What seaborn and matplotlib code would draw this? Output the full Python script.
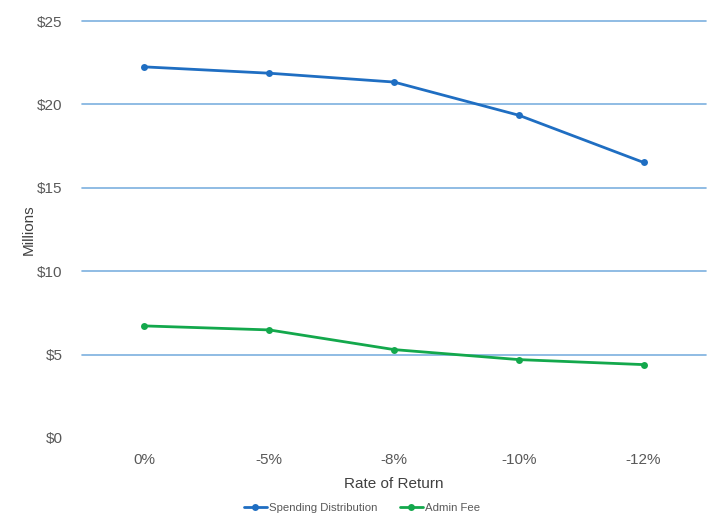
import matplotlib
matplotlib.use("Agg")
import matplotlib.pyplot as plt
import seaborn as sns
import pandas as pd
from matplotlib.ticker import FuncFormatter
from matplotlib.lines import Line2D

# Scenario categories and projected amounts (millions of dollars)
rates = ["0%", "-5%", "-8%", "-10%", "-12%"]
spending_distribution = [22.25, 21.87, 21.34, 19.35, 16.52]
admin_fee = [6.72, 6.48, 5.30, 4.70, 4.40]

series_names = ["Spending Distribution", "Admin Fee"]
palette = {"Spending Distribution": "#1F6EC2", "Admin Fee": "#13A84C"}

df = pd.DataFrame({
    "Rate of Return": rates * 2,
    "pos": list(range(len(rates))) * 2,
    "Value": spending_distribution + admin_fee,
    "Series": [series_names[0]] * len(rates) + [series_names[1]] * len(rates),
})

sns.set_theme(style="white")
plt.rcParams["font.family"] = ["Liberation Sans", "DejaVu Sans"]

fig = plt.figure(figsize=(7.12, 5.18), dpi=100)
ax = fig.add_axes([82 / 712, 1 - 438 / 518, (706 - 82) / 712, (438 - 21) / 518])

sns.lineplot(data=df, x="pos", y="Value", hue="Series", hue_order=series_names,
             palette=palette, marker="o", markersize=5, markeredgewidth=0,
             linewidth=2.0, ax=ax, legend=False)

ax.set_xlim(-0.5, len(rates) - 0.5)
ax.set_ylim(0, 25)
ax.set_xticks(range(len(rates)))
ax.set_xticklabels(rates)
ax.set_yticks([0, 5, 10, 15, 20, 25])
ax.yaxis.set_major_formatter(FuncFormatter(lambda v, _: f"${v:.0f}"))

for y in [5, 10, 15, 20, 25]:
    ax.axhline(y, color="#7DB0DF", linewidth=1.2, zorder=0, clip_on=False)

for s in ax.spines.values():
    s.set_visible(False)
ax.grid(False)
ax.tick_params(axis="both", length=0, labelsize=11, colors="#595959")
ax.tick_params(axis="x", pad=11)
ax.tick_params(axis="y", pad=14)

ax.set_xlabel("Rate of Return", fontsize=11, color="#404040", labelpad=7)
ax.set_ylabel("Millions", fontsize=11, color="#404040", labelpad=1)

# Legend below the plot
handles = [Line2D([0], [0], color=palette[n], marker="o", markersize=5,
                  linewidth=2, markeredgewidth=0) for n in series_names]
fig.legend(handles, series_names, loc="center", bbox_to_anchor=(362 / 712, 1 - 508 / 518),
           ncol=2, frameon=False, fontsize=8.2, labelcolor="#595959",
           handlelength=2.0, handletextpad=0.2, columnspacing=2.0)

fig.savefig("out.png", dpi=100)
